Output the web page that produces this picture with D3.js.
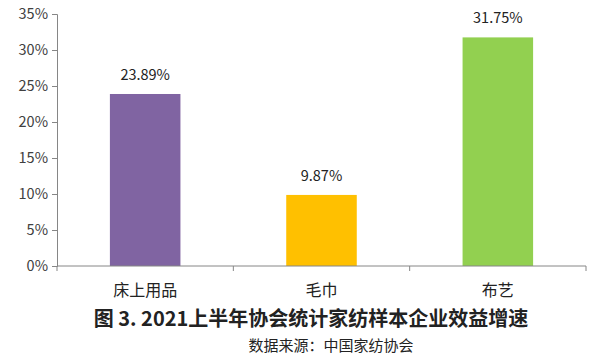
<!DOCTYPE html>
<html><head><meta charset="utf-8">
<script src="https://cdn.jsdelivr.net/npm/d3@7"></script>
<style>body{margin:0;background:#fff}svg{display:block}text{font-family:"Noto Sans CJK SC","Noto Sans",sans-serif}</style>
</head><body><svg id="c" width="600" height="360"></svg>
<script>
const categories = ["床上用品", "毛巾", "布艺"];
const values = [23.89, 9.87, 31.75];
const colors = ["#8064A2", "#FFC000", "#92D050"];
const yTicks = [0, 5, 10, 15, 20, 25, 30, 35];
const title = "图 3. 2021上半年协会统计家纺样本企业效益增速";
const source = "数据来源：中国家纺协会";

(function () {
const svg = d3.select("#c");
const mLeft = 57, mRight = 586, mTop = 14, mBottom = 266;
const x = d3.scaleBand().domain(categories).range([mLeft, mRight]).paddingInner(0.6).paddingOuter(0.3);
const y = d3.scaleLinear().domain([0, 35]).range([mBottom, mTop]);

const yAxis = svg.append("g").attr("transform", `translate(${mLeft},0)`)
  .call(d3.axisLeft(y).tickValues(yTicks).tickFormat(d => d + "%").tickSize(5).tickPadding(4));
yAxis.selectAll("path,line").attr("stroke", "#868686");
yAxis.selectAll("text").attr("font-size", 14.5).attr("fill", "#404040").attr("font-family", "Liberation Sans, sans-serif");

svg.selectAll("rect.bar").data(values).join("rect").attr("class", "bar")
  .attr("x", (d, i) => x(categories[i])).attr("width", x.bandwidth())
  .attr("y", d => y(d)).attr("height", d => y(0) - y(d))
  .attr("fill", (d, i) => colors[i]);

const xAxis = svg.append("g").attr("transform", `translate(0,${mBottom})`);
xAxis.append("line").attr("x1", mLeft).attr("x2", mRight).attr("stroke", "#868686");
const step = (mRight - mLeft) / categories.length;
xAxis.selectAll("line.t").data(d3.range(categories.length + 1)).join("line").attr("class", "t")
  .attr("x1", i => mLeft + i * step).attr("x2", i => mLeft + i * step).attr("y1", 0).attr("y2", 5).attr("stroke", "#868686");
xAxis.selectAll("text").data(categories).join("text")
  .attr("x", d => x(d) + x.bandwidth() / 2).attr("y", 30).attr("text-anchor", "middle")
  .attr("font-size", 16).attr("fill", "#222").text(d => d);

svg.selectAll("text.v").data(values).join("text").attr("class", "v")
  .attr("x", (d, i) => x(categories[i]) + x.bandwidth() / 2).attr("y", d => y(d) - 14)
  .attr("text-anchor", "middle").attr("font-size", 14.5).attr("fill", "#222")
  .attr("font-family", "Liberation Sans, sans-serif").text(d => d.toFixed(2) + "%");

svg.append("text").attr("x", 311).attr("y", 326).attr("text-anchor", "middle")
  .attr("font-size", 20).attr("font-weight", "bold").attr("fill", "#222").text(title);
svg.append("text").attr("x", 331).attr("y", 351).attr("text-anchor", "middle")
  .attr("font-size", 15).attr("fill", "#222").text(source);
})();
</script></body></html>
